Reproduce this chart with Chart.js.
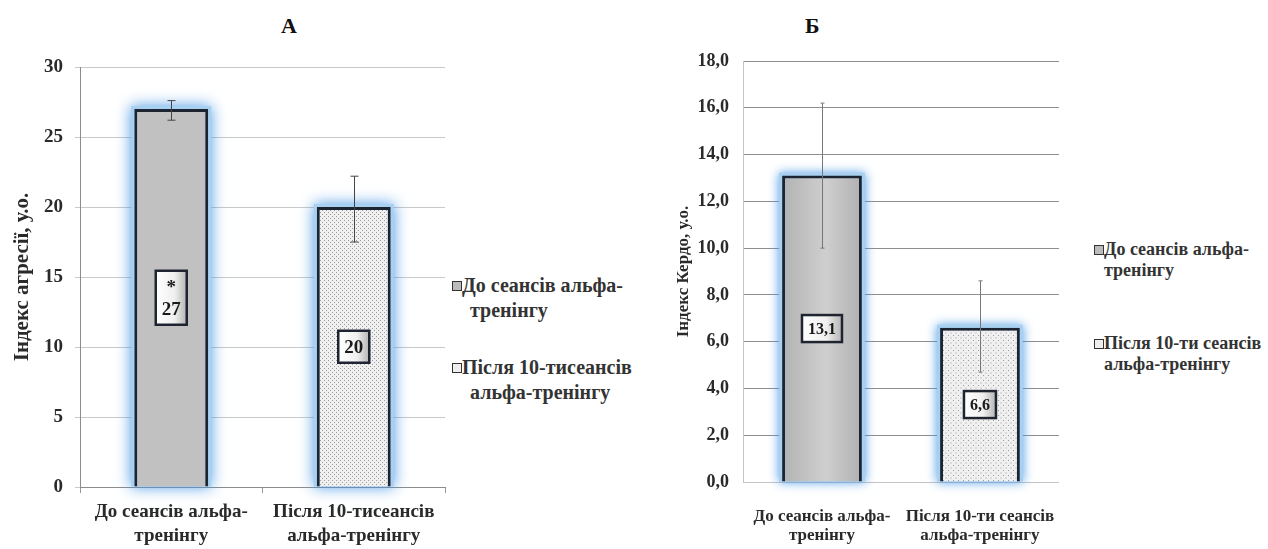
<!DOCTYPE html>
<html>
<head>
<meta charset="utf-8">
<script src="https://cdn.jsdelivr.net/npm/chart.js@4.4.0/dist/chart.umd.min.js"></script>
<style>
  body { margin: 0; width: 1268px; height: 549px; background: #fff; position: relative; overflow: hidden;
         font-family: "Liberation Serif", "Times New Roman", serif; font-weight: bold; color: #222; }
  .wrap { position: absolute; top: 0; height: 549px; }
  .title { position: absolute; font-size: 22px; font-weight: bold; color: #111; }
  .legline { position: absolute; white-space: nowrap; color: #333; line-height: 1.15; }
  .mk { position: absolute; width: 8px; height: 8px; border: 1.5px solid #333; }
</style>
</head>
<body>
<div class="title" style="left:281px;top:13px">А</div>
<div class="title" style="left:805px;top:13px">Б</div>
<div class="wrap" style="left:0;width:450px"><canvas id="chartA"></canvas></div>
<div class="wrap" style="left:673px;width:402px"><canvas id="chartB"></canvas></div>
<div id="legA"></div>
<div id="legB"></div>
<script>
// chart A - aggression index
const categoriesA = [['До сеансів альфа-', 'тренінгу'], ['Після 10-тисеансів', 'альфа-тренінгу']];
const valuesA = [27, 20];
const errLowA = [26.2, 17.5];
const errHighA = [27.6, 22.2];
const boxTextA = [['*', '27'], ['20']];
const legendA = [['До сеансів альфа-', 'тренінгу'], ['Після 10-тисеансів', 'альфа-тренінгу']];
const axisTitleA = 'Індекс агресії, у.о.';

// chart B - Kerdo index
const categoriesB = [['До сеансів альфа-', 'тренінгу'], ['Після 10-ти сеансів', 'альфа-тренінгу']];
const valuesB = [13.1, 6.6];
const errLowB = [10.0, 4.7];
const errHighB = [16.2, 8.6];
const boxTextB = [['13,1'], ['6,6']];
const legendB = [['До сеансів альфа-', 'тренінгу'], ['Після 10-ти сеансів', 'альфа-тренінгу']];
const axisTitleB = 'Індекс Кердо, у.о.';

const serif = '"Liberation Serif", "Times New Roman", serif';

// dotted fill for the second bar
function dotPattern(step) {
    const c = document.createElement('canvas');
    c.width = step; c.height = step;
    const g = c.getContext('2d');
    g.fillStyle = '#f0f0f0';
    g.fillRect(0, 0, step, step);
    g.fillStyle = '#9a9a9a';
    g.fillRect(0, 0, 1, 1);
    g.fillRect(step / 2, step / 2, 1, 1);
    return g.createPattern(c, 'repeat');
}

// first bar grey (optionally lighter in the middle), second bar dotted
function barFill(light, barPct, step) {
    const pattern = dotPattern(step);
    return function (c) {
        if (c.dataIndex === 1) return pattern;
        if (!light) return '#c1c1c1';
        const xs = c.chart.scales.x;
        if (!xs || !xs.width) return '#bebebe';
        const cx = xs.getPixelForValue(c.dataIndex);
        const w = xs.width / 2 * barPct;
        const g = c.chart.ctx.createLinearGradient(cx - w / 2, 0, cx + w / 2, 0);
        g.addColorStop(0, '#b2b2b2');
        g.addColorStop(0.55, light);
        g.addColorStop(1, '#b0b0b0');
        return g;
    };
}

// blue glow behind the bars
const glow = {
    id: 'glow',
    beforeDatasetsDraw(chart, args, opts) {
        const ctx = chart.ctx;
        const meta = chart.getDatasetMeta(0);
        ctx.save();
        ctx.shadowColor = 'rgba(70,150,230,0.95)';
        ctx.shadowBlur = opts.blur;
        ctx.fillStyle = '#a8d0f0';
        meta.data.forEach(bar => {
            const p = bar.getProps(['x', 'y', 'base', 'width'], true);
            ctx.fillRect(p.x - p.width / 2 - 3, p.y - 3, p.width + 6, p.base - p.y + 3);
        });
        ctx.restore();
    }
};

// error bars from low/high arrays
const errorBars = {
    id: 'errorBars',
    afterDatasetsDraw(chart, args, opts) {
        const ctx = chart.ctx;
        const y = chart.scales.y;
        const meta = chart.getDatasetMeta(0);
        ctx.save();
        ctx.strokeStyle = opts.color;
        ctx.lineWidth = opts.width;
        meta.data.forEach((bar, i) => {
            const top = y.getPixelForValue(opts.high[i]);
            const bot = y.getPixelForValue(opts.low[i]);
            const x = Math.round(bar.x) + 0.5;
            ctx.beginPath();
            ctx.moveTo(x, top); ctx.lineTo(x, bot);
            ctx.moveTo(x - opts.cap, top); ctx.lineTo(x + opts.cap, top);
            ctx.moveTo(x - opts.cap, bot); ctx.lineTo(x + opts.cap, bot);
            ctx.stroke();
        });
        ctx.restore();
    }
};

// framed value labels in the middle of each bar
const boxLabels = {
    id: 'boxLabels',
    afterDatasetsDraw(chart, args, opts) {
        const ctx = chart.ctx;
        const meta = chart.getDatasetMeta(0);
        ctx.save();
        ctx.font = 'bold ' + opts.size + 'px ' + serif;
        ctx.textAlign = 'center';
        ctx.textBaseline = 'middle';
        meta.data.forEach((bar, i) => {
            const lines = opts.texts[i];
            const w = Math.max(...lines.map(t => ctx.measureText(t).width)) + opts.padX * 2;
            const h = lines.length * opts.lh + opts.padY * 2;
            const cy = (bar.y + bar.base) / 2;
            const x0 = bar.x - w / 2, y0 = cy - h / 2;
            const grad = ctx.createLinearGradient(x0, 0, x0 + w, 0);
            grad.addColorStop(0, '#ffffff');
            grad.addColorStop(0.6, '#f0f0f0');
            grad.addColorStop(1, '#b4b4b4');
            ctx.fillStyle = grad;
            ctx.fillRect(x0, y0, w, h);
            ctx.lineWidth = 2.5;
            ctx.strokeStyle = '#1e2530';
            ctx.strokeRect(x0, y0, w, h);
            ctx.fillStyle = '#1a1a1a';
            lines.forEach((t, k) => {
                ctx.fillText(t, bar.x, y0 + opts.padY + opts.lh * (k + 0.5) + 1);
            });
        });
        ctx.restore();
    }
};

function makeChart(id, s) {
    return new Chart(document.getElementById(id), {
        type: 'bar',
        data: {
            labels: s.categories,
            datasets: [{
                data: s.values,
                backgroundColor: barFill(s.light, s.barPct, s.dotStep),
                borderColor: '#1c2431',
                borderWidth: 3,
                barPercentage: s.barPct,
                categoryPercentage: 1
            }]
        },
        options: {
            responsive: true,
            maintainAspectRatio: false,
            animation: false,
            layout: { padding: { top: s.padTop, right: s.padRight, left: 0, bottom: 0 } },
            plugins: {
                legend: { display: false },
                tooltip: { enabled: false },
                glow: { blur: s.glowBlur },
                errorBars: { low: s.low, high: s.high, color: s.errColor, width: 1, cap: s.cap },
                boxLabels: s.boxes
            },
            scales: {
                x: {
                    afterFit(scale) { scale.height = s.xHeight; },
                    grid: { display: s.xTicks, drawOnChartArea: false, tickLength: 6, color: '#999' },
                    border: { display: true, color: s.axisColor },
                    ticks: {
                        color: '#2a2a2a', padding: s.xPad,
                        font: { family: serif, size: s.catSize, weight: 'bold', lineHeight: s.catLh },
                        maxRotation: 0
                    }
                },
                y: {
                    min: 0, max: s.max,
                    afterFit(scale) { scale.width = s.yWidth; },
                    grid: { color: s.gridColor, tickLength: 5, drawTicks: s.yTicks },
                    border: { display: true, color: s.axisColor },
                    ticks: {
                        stepSize: s.step, color: '#2a2a2a', padding: s.yPad,
                        font: { family: serif, size: s.tickSize, weight: 'bold' },
                        callback: s.fmt
                    },
                    title: {
                        display: true, text: s.axisTitle, color: '#2a2a2a',
                        padding: { top: s.titlePad, bottom: 0 },
                        font: { family: serif, size: s.titleSize, weight: 'bold' }
                    }
                }
            }
        },
        plugins: [glow, errorBars, boxLabels]
    });
}

makeChart('chartA', {
    categories: categoriesA, values: valuesA, low: errLowA, high: errHighA,
    light: null, dotStep: 4, barPct: 0.405, padTop: 67, padRight: 5,
    xHeight: 62, yWidth: 80, xPad: 7, yPad: 12, xTicks: true, yTicks: true,
    max: 30, step: 5, fmt: v => v,
    gridColor: '#c9c9c9', axisColor: '#8c8c8c', errColor: '#444', cap: 4, glowBlur: 14,
    catSize: 19, catLh: 1.26, tickSize: 19, titleSize: 21, titlePad: 10, axisTitle: axisTitleA,
    boxes: { texts: boxTextA, size: 19, padX: 6, padY: 5, lh: 22 }
});

makeChart('chartB', {
    categories: categoriesB, values: valuesB, low: errLowB, high: errHighB,
    light: '#cfcfcf', dotStep: 5, barPct: 0.505, padTop: 61, padRight: 7,
    xHeight: 67, yWidth: 70, xPad: 19, yPad: 14, xTicks: false, yTicks: false,
    max: 18, step: 2, fmt: v => v.toFixed(1).replace('.', ','),
    gridColor: '#8e8e8e', axisColor: '#c4c4c4', errColor: '#777', cap: 2, glowBlur: 10,
    catSize: 17, catLh: 1.12, tickSize: 18, titleSize: 17, titlePad: 0, axisTitle: axisTitleB,
    boxes: { texts: boxTextB, size: 16, padX: 6, padY: 4, lh: 19 }
});

// html legends, two lines per entry like the original
function buildLegend(elId, items, x, tops, lineGap, indent, size, fills) {
    const el = document.getElementById(elId);
    items.forEach((lines, i) => {
        const mk = document.createElement('div');
        mk.className = 'mk';
        mk.style.left = x + 'px';
        mk.style.top = (tops[i] + size * 0.35) + 'px';
        mk.style.background = fills[i];
        el.appendChild(mk);
        lines.forEach((t, k) => {
            const d = document.createElement('div');
            d.className = 'legline';
            d.textContent = t;
            d.style.fontSize = size + 'px';
            d.style.left = (x + 10 + (k ? indent : 0)) + 'px';
            d.style.top = (tops[i] + k * lineGap) + 'px';
            el.appendChild(d);
        });
    });
}
const dots = 'radial-gradient(#888 0.6px, #eee 0.7px) 0 0 / 2px 2px';
buildLegend('legA', legendA, 452, [274, 356], 25, 8, 20, ['#bbb', dots]);
buildLegend('legB', legendB, 1094, [239, 333], 21, 0, 18, ['#bbb', dots]);
</script>
</body>
</html>
